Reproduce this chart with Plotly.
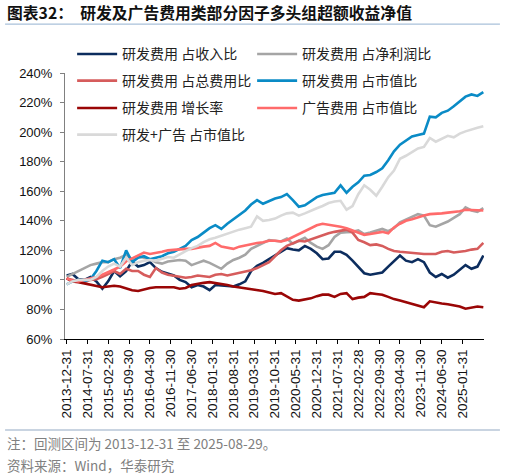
import pandas as pd
import plotly.graph_objects as go

# two-month sample points
dates = pd.date_range("2013-12-31", periods=71, freq="2ME").strftime("%Y-%m-%d").tolist()
dates[-1] = "2025-08-29"

rd_revenue = [103, 104, 100.5, 100, 102, 99, 94, 99, 106, 102.5,
              106, 112.5, 109, 110, 112, 108, 105.5, 104, 103, 100,
              98.5, 95, 96.5, 95.5, 93, 96.5, 96, 95.5, 95.5, 97,
              99, 106, 109.5, 111.5, 114, 116.5, 118.5, 121.5, 120.5, 120,
              123, 121, 118, 114, 114.5, 119, 119, 117, 113, 108.5,
              104.5, 103.5, 104.5, 105, 109, 113, 116.5, 113, 112, 114,
              112, 105, 102, 104, 101.5, 103.5, 107, 110, 107.5, 109, 116.5]

rd_profit = [102, 104, 106, 108, 110, 111, 112, 112, 114, 115,
             117, 114, 116, 115, 114, 112, 111, 112.5, 113, 113.5,
             113, 110, 111.5, 113, 111.5, 109.5, 107.5, 111, 113.5, 115,
             117, 121, 123, 125, 127, 126.5, 126, 128, 124.5, 126.5,
             128.5, 125, 122.5, 121, 123.5, 129, 132, 132.3, 132.5, 133.5,
             131, 132, 133, 134.5, 133, 135, 139, 141, 142.5, 144.5,
             143.5, 137, 136, 137.5, 139.5, 142, 144.5, 149, 147, 146, 148.5]

rd_total_cost = [101, 100, 99, 98.5, 100, 100.5, 102, 104, 106, 104,
                 107.5, 106, 106, 103.5, 102, 108, 105, 103.5, 103, 102,
                 101.5, 102, 103, 102.5, 102, 103.5, 104, 103, 104, 105,
                 105.5, 106.5, 108, 110, 112, 116, 120, 123, 125, 126.5,
                 126, 127.5, 129, 130.5, 131.5, 132.5, 133, 134, 132, 127,
                 125.5, 123.5, 124, 123, 121, 119.5, 119, 118.5, 118.5, 118,
                 117.5, 117.5, 117.5, 119, 119.5, 118.5, 119, 119.5, 120.5, 121, 125]

rd_mktcap = [97, 99, 100, 99, 100.5, 106, 113, 112, 114, 108,
             120, 112, 115, 116, 114, 115, 116, 118, 119, 121,
             123, 127, 129, 132, 135, 137, 134.5, 138, 141, 144.5,
             147, 151, 154, 151.5, 153.5, 155, 156, 158, 154, 149.5,
             150.5, 153, 156, 157.5, 158.5, 159, 164, 159, 163, 166,
             170.5, 171, 173, 175.5, 181, 187, 191.5, 194.5, 197, 198,
             199, 210.5, 210, 213, 214.5, 217.5, 221, 224, 225.5, 224.5, 227]

rd_growth = [101, 99, 98.5, 97.5, 97, 96, 95, 95.5, 96, 95.5,
             94, 93, 92.5, 93.5, 94.5, 95, 95, 94.5, 95, 94,
             94.5, 96.5, 97.5, 98, 98.5, 98, 97.5, 96.5, 95.5, 95,
             94.5, 94, 93.5, 92.5, 91.5, 90.5, 91, 88.5, 86.5, 86,
             86.5, 87.5, 89, 90, 90, 88.5, 90.5, 91, 87, 88,
             88.5, 91, 90.5, 90, 88.5, 87, 86, 85, 83.5, 82.5,
             81.5, 85.5, 84.5, 84, 83.5, 82.5, 82, 80.5, 81, 82, 81.5]

ad_mktcap = [101, 99.5, 99, 100, 100.5, 102, 103.5, 105, 107, 109,
             112.5, 114.5, 116.5, 118.5, 117.5, 118, 119, 120, 120.5, 121,
             121, 121, 121.5, 122.5, 123, 125, 122.5, 121.5, 121, 122.5,
             123.5, 124.5, 125, 125.5, 126.5, 126.5, 126, 127, 129, 130.5,
             132.5, 135, 137, 138, 137.5, 136.5, 136, 135, 133.5, 132,
             130.5, 131, 132, 132.5, 131.5, 135.5, 138, 140, 141, 142.5,
             143.5, 144.5, 144.5, 145, 145.5, 146, 146.5, 147.5, 147.5, 147, 147]

rd_ad_mktcap = [97, 99, 100, 100, 100, 102, 106, 109, 111, 109,
                115, 110, 112, 113, 113.5, 113, 114.5, 115.5, 115, 117.5,
                119.5, 121.5, 123, 125.5, 127.5, 128.5, 130, 131, 132.5, 134,
                135, 136, 143, 140, 140.5, 141.5, 143.5, 145, 145.5, 143.5,
                145, 147, 148.5, 150, 152, 153, 153.5, 147.5, 150, 158,
                164, 161, 157, 163, 169.5, 174, 182, 184, 186.5, 189,
                190, 196, 193.5, 195.5, 197.5, 196.5, 199, 200.5, 202, 203, 204]

tick_dates = ["2013-12-31", "2014-07-31", "2015-02-28", "2015-09-30", "2016-04-30",
              "2016-11-30", "2017-06-30", "2018-01-31", "2018-08-31", "2019-03-31",
              "2019-10-31", "2020-05-31", "2020-12-31", "2021-07-31", "2022-02-28",
              "2022-09-30", "2023-04-30", "2023-11-30", "2024-06-30", "2025-01-31"]

series = [
    ("研发费用 占收入比", rd_revenue, "#0c2d5e", "legend"),
    ("研发费用 占净利润比", rd_profit, "#a5a5a5", "legend"),
    ("研发费用 占总费用比", rd_total_cost, "#d65c5c", "legend2"),
    ("研发费用 占市值比", rd_mktcap, "#0a8bc6", "legend2"),
    ("研发费用 增长率", rd_growth, "#9a0606", "legend3"),
    ("广告费用 占市值比", ad_mktcap, "#ff6b6b", "legend3"),
    ("研发+广告 占市值比", rd_ad_mktcap, "#d9d9d9", "legend4"),
]

fig = go.Figure()
for name, vals, color, lg in series:
    fig.add_trace(go.Scatter(x=dates, y=[v / 100 for v in vals], mode="lines", name=name,
                             line=dict(color=color, width=2.6), legend=lg))

cjk = "Noto Sans CJK SC"
leg_font = dict(family=cjk, size=14, color="#222222")


def row_legend(y):
    return dict(orientation="h", x=0.017, xanchor="left", y=y, yanchor="middle",
                font=leg_font, bgcolor="rgba(0,0,0,0)", itemwidth=40,
                entrywidth=125, entrywidthmode="pixels", traceorder="normal")


fig.update_layout(
    width=505, height=475,
    margin=dict(l=65, r=21, t=73, b=136, autoexpand=False),
    paper_bgcolor="white", plot_bgcolor="white",
    legend=row_legend(1.070),
    legend2=row_legend(0.970),
    legend3=row_legend(0.867),
    legend4=row_legend(0.767),
    xaxis=dict(type="date", range=["2013-12-14", "2025-09-05"],
               tickvals=tick_dates, ticktext=tick_dates, tickangle=-90,
               ticks="outside", ticklen=4, tickcolor="#000000",
               showline=True, linecolor="#000000", linewidth=1, showgrid=False,
               tickfont=dict(family="Liberation Sans", size=13.5, color="#111111")),
    yaxis=dict(range=[0.6, 2.4], dtick=0.2, tickformat=".0%",
               ticks="outside", ticklen=4, tickcolor="#808080", ticklabelstandoff=5,
               showline=True, linecolor="#808080", linewidth=1, showgrid=False,
               zeroline=False,
               tickfont=dict(family="Liberation Sans", size=13, color="#111111")),
    shapes=[
        dict(type="line", xref="paper", yref="paper", x0=-0.143, x1=1.038, y0=1.184, y1=1.184,
             line=dict(color="#a9c1da", width=1.2)),
        dict(type="line", xref="paper", yref="paper", x0=-0.143, x1=1.038, y0=-0.342, y1=-0.342,
             line=dict(color="#c9d4e1", width=2)),
    ],
    annotations=[
        dict(text="<b>图表32：  研发及广告费用类部分因子多头组超额收益净值</b>",
             xref="paper", yref="paper", x=-0.143, y=1.226, xanchor="left", yanchor="middle",
             showarrow=False, font=dict(family=cjk, size=15.8, color="#111111")),
        dict(text="注：回测区间为 2013-12-31 至 2025-08-29。", xref="paper", yref="paper",
             x=-0.143, y=-0.391, xanchor="left", yanchor="middle", showarrow=False,
             font=dict(family=cjk, size=13.5, color="#808080")),
        dict(text="资料来源：Wind，华泰研究", xref="paper", yref="paper",
             x=-0.143, y=-0.474, xanchor="left", yanchor="middle", showarrow=False,
             font=dict(family=cjk, size=13.5, color="#808080")),
    ],
)

# drop the browser's default 8px body margin so the figure sits at the page corner
fig.write_html("out.html", config={"displayModeBar": False},
               post_script="document.body.style.margin = '0';")
